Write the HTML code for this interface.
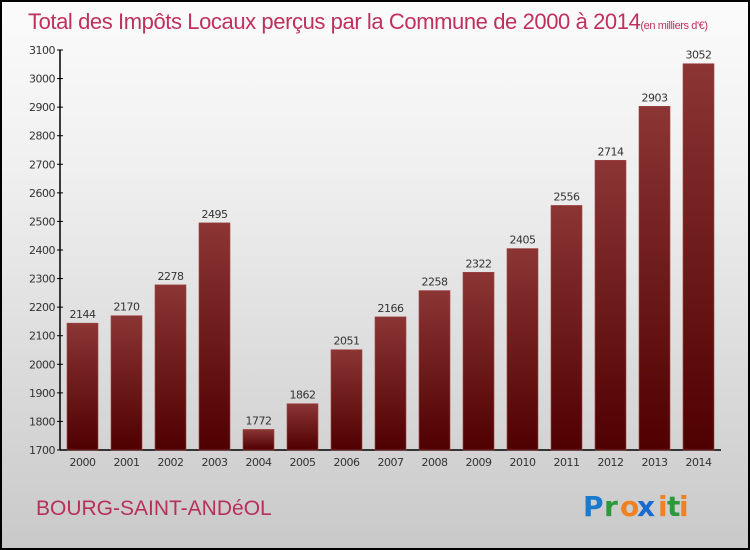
<!DOCTYPE html>
<html><head><meta charset="utf-8"><style>
body{margin:0;}
#wrap{position:relative;width:750px;height:550px;box-sizing:border-box;border:2px solid #000;background:linear-gradient(#fbfbfb,#f0f0f0 30%,#c9c9c9);font-family:"DejaVu Sans","Liberation Sans",sans-serif;overflow:hidden}
</style></head><body>
<div id="wrap">
<svg width="746" height="546" style="position:absolute;left:-2px;top:-2px;overflow:visible">
<defs><linearGradient id="bg" x1="0" y1="0" x2="0" y2="1"><stop offset="0" stop-color="#8c3535"/><stop offset="1" stop-color="#4f0000"/></linearGradient></defs>
<text x="28" y="29" font-size="22" fill="#c0305e" font-family="Liberation Sans,sans-serif" font-weight="300" textLength="680">Total des Impôts Locaux perçus par la Commune de 2000 à 2014<tspan font-size="11">(en milliers d'€)</tspan></text>
<g id="axes"></g><g id="bars"></g>
<text x="36" y="515" font-size="21" fill="#b8305a" font-family="Liberation Sans,sans-serif">BOURG-SAINT-ANDéOL</text>
<g font-size="28" font-weight="bold" font-family="DejaVu Sans,sans-serif"><text x="583" y="516" fill="#1a7ad0">P</text><text x="604" y="516" fill="#2a9a3a">r</text><text x="620" y="516" fill="#f08020">o</text><text x="637" y="516" fill="#1a6ad0">x</text><text x="658" y="516" fill="#f08020">i</text><text x="667" y="516" fill="#2a9a3a">t</text><text x="679" y="516" fill="#f08020">i</text></g>
</svg></div>
<script>
const categories=["2000","2001","2002","2003","2004","2005","2006","2007","2008","2009","2010","2011","2012","2013","2014"];
const values=[2144,2170,2278,2495,1772,1862,2051,2166,2258,2322,2405,2556,2714,2903,3052];
const yTicks=[1700,1800,1900,2000,2100,2200,2300,2400,2500,2600,2700,2800,2900,3000,3100];
const NS="http://www.w3.org/2000/svg";
const y=v=>450-(v-1700)*400/1400;
const x=i=>82.5+i*44;
function mk(t,a,p,txt){const e=document.createElementNS(NS,t);for(const k in a)e.setAttribute(k,a[k]);if(txt!==undefined)e.textContent=txt;p.appendChild(e);return e;}
const ax=document.getElementById('axes'),bars=document.getElementById('bars');
let l=mk('line',{x1:60,y1:50,x2:60,y2:450,stroke:'#000','stroke-width':1.5},ax);


l=mk('line',{x1:60,y1:450,x2:721,y2:450,stroke:'#000','stroke-width':1.5},ax);


yTicks.forEach(v=>{mk('line',{x1:57,y1:y(v),x2:63,y2:y(v),stroke:'#000'},ax);
const t=mk('text',{x:55,y:y(v)+4,'font-size':11,fill:'#333','text-anchor':'end','letter-spacing':'-0.5'},ax,v);

});
values.forEach((v,i)=>{const r=mk('rect',{x:x(i)-15.5,y:y(v),width:31,height:450-y(v),fill:'url(#bg)',stroke:'#a04545','stroke-width':0.6},bars);


const t=mk('text',{x:x(i),y:y(v)-5,'font-size':11,fill:'#333','text-anchor':'middle','letter-spacing':'-0.5'},bars,v);


const c=mk('text',{x:x(i),y:466,'font-size':11,fill:'#333','text-anchor':'middle','letter-spacing':'-0.5'},bars,categories[i]);

});
</script>
</body></html>
